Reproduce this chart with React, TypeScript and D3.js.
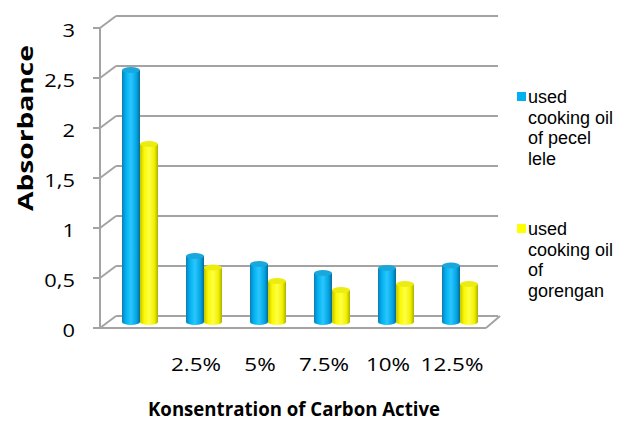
import React from "react";
import * as d3 from "d3";

const categories = ["", "2.5%", "5%", "7.5%", "10%", "12.5%"];
const seriesKeys = ["pecel", "gorengan"];
const pecelLele = [2.52, 0.66, 0.58, 0.49, 0.54, 0.565];
const gorengan = [1.78, 0.545, 0.41, 0.32, 0.38, 0.38];
const yTicks = [0, 0.5, 1, 1.5, 2, 2.5, 3];
const legendPecel = ["used", "cooking oil", "of pecel", "lele"];
const legendGorengan = ["used", "cooking oil", "of", "gorengan"];
const yTitle = "Absorbance";
const xTitle = "Konsentration of Carbon Active";

const W = 631;
const H = 423;
const DX = 16;
const DY = -12;

export default function App() {
  const yFront = d3.scaleLinear().domain([0, 3]).range([328, 28]);
  const yBar = (v: number) => yFront(v) + DY / 2;
  const xGroup = d3.scalePoint<string>().domain(categories.map((c, i) => String(i))).range([140, 460]);
  const xSeries = d3.scaleBand<string>().domain(seriesKeys).range([-18, 18]).padding(0);
  const bw = xSeries.bandwidth();
  const ry = 3;
  const grid = "#a3a3a3";
  const fmt = (v: number) => String(v).replace(".", ",");
  const series = [
    { key: "pecel", values: pecelLele, grad: "gBlue", top: "#1aa8dc" },
    { key: "gorengan", values: gorengan, grad: "gYellow", top: "#ecec10" },
  ];
  const floorLeft = 100;
  const floorRight = 486;
  const y0 = yFront(0);

  return (
    <svg width={W} height={H} style={{ position: "absolute", left: 0, top: 0, background: "#fff" }}>
      <defs>
        <linearGradient id="gBlue" x1="0" x2="1" y1="0" y2="0">
          <stop offset="0" stopColor="#0a7fb2" />
          <stop offset="0.22" stopColor="#03b2f0" />
          <stop offset="0.5" stopColor="#2ac6ff" />
          <stop offset="0.8" stopColor="#04a6e4" />
          <stop offset="1" stopColor="#086c98" />
        </linearGradient>
        <linearGradient id="gYellow" x1="0" x2="1" y1="0" y2="0">
          <stop offset="0" stopColor="#c4c400" />
          <stop offset="0.22" stopColor="#f8f800" />
          <stop offset="0.5" stopColor="#ffff48" />
          <stop offset="0.8" stopColor="#f0f000" />
          <stop offset="1" stopColor="#b0b000" />
        </linearGradient>
      </defs>

      {/* back wall gridlines and diagonals */}
      {yTicks.map((t) => (
        <g key={"g" + t}>
          <line x1={floorLeft + DX} x2={498} y1={yFront(t) + DY} y2={yFront(t) + DY} stroke={grid} strokeWidth={2} />
          <line x1={floorLeft} x2={floorLeft + DX} y1={yFront(t)} y2={yFront(t) + DY} stroke={grid} strokeWidth={2} />
          <line x1={floorLeft - 7} x2={floorLeft} y1={yFront(t)} y2={yFront(t)} stroke={grid} strokeWidth={2} />
        </g>
      ))}
      {/* front axis line */}
      <line x1={floorLeft} x2={floorLeft} y1={yFront(3)} y2={y0} stroke={grid} strokeWidth={2} />
      {/* floor */}
      <line x1={floorLeft} x2={floorRight} y1={y0} y2={y0} stroke={grid} strokeWidth={2} />
      <line x1={floorRight} x2={498 + 2} y1={y0} y2={y0 + DY} stroke={grid} strokeWidth={2} />

      {/* bars */}
      {categories.map((c, i) =>
        series.map((s) => {
          const cx = (xGroup(String(i)) as number) + (xSeries(s.key) as number) + bw / 2;
          const rx = bw / 2;
          const yt = yBar(s.values[i]);
          const yb = yBar(0);
          const d = `M${cx - rx},${yt} L${cx - rx},${yb} A${rx},${ry} 0 0 0 ${cx + rx},${yb} L${cx + rx},${yt} Z`;
          return (
            <g key={s.key + i}>
              <path d={d} fill={`url(#${s.grad})`} />
              <ellipse cx={cx} cy={yt} rx={rx} ry={ry} fill={s.top} />
            </g>
          );
        })
      )}

      {/* y tick labels */}
      {yTicks.map((t) => (
        <text
          key={"yl" + t}
          transform={`translate(75,${yFront(t) + 9}) scale(1.15,1)`}
          textAnchor="end"
          fontFamily="'Open Sans', sans-serif"
          fontSize={19}
          fill="#000"
        >
          {fmt(t)}
        </text>
      ))}

      {/* x tick labels */}
      {categories.map((c, i) => (
        <text
          key={"xl" + i}
          transform={`translate(${(xGroup(String(i)) as number) - 8},371) scale(1.18,1)`}
          textAnchor="middle"
          fontFamily="'Open Sans', sans-serif"
          fontSize={19}
          fill="#000"
        >
          {c}
        </text>
      ))}

      {/* axis titles */}
      <text
        transform="translate(33,128) rotate(-90)"
        textAnchor="middle"
        fontFamily="'Open Sans', sans-serif"
        fontWeight="bold"
        fontSize={22}
        textLength={166}
        lengthAdjust="spacingAndGlyphs"
        fill="#000"
      >
        {yTitle}
      </text>
      <text
        x={294}
        y={416}
        textAnchor="middle"
        fontFamily="'Open Sans', sans-serif"
        fontWeight="bold"
        fontSize={20}
        textLength={292}
        lengthAdjust="spacingAndGlyphs"
        fill="#000"
      >
        {xTitle}
      </text>

      {/* legend */}
      {[
        { lines: legendPecel, color: "#00b0f0", y: 97 },
        { lines: legendGorengan, color: "#ffff00", y: 229 },
      ].map((l, k) => (
        <g key={"lg" + k}>
          <rect x={517} y={l.y - 5} width={9} height={9} fill={l.color} />
          {l.lines.map((ln, j) => (
            <text
              key={j}
              x={528}
              y={l.y + 6 + j * 20.5}
              fontFamily="'Liberation Sans', Arial, sans-serif"
              fontSize={18}
              fill="#000"
            >
              {ln}
            </text>
          ))}
        </g>
      ))}
    </svg>
  );
}
